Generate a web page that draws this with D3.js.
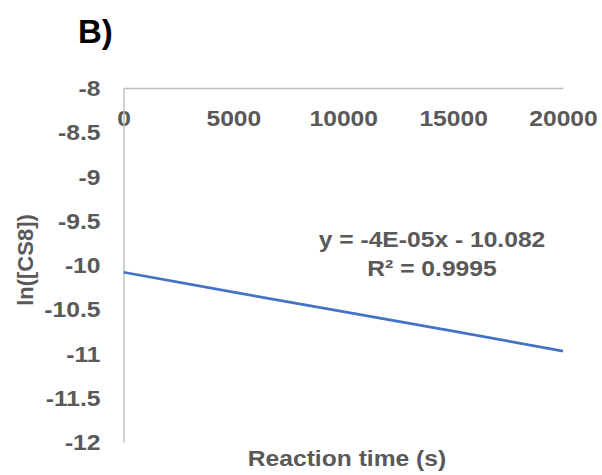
<!DOCTYPE html>
<html>
<head>
<meta charset="utf-8">
<script src="https://cdn.jsdelivr.net/npm/d3@7"></script>
<style>
  html, body { margin: 0; padding: 0; background: #fff; }
  svg text { font-family: "Liberation Sans", Arial, sans-serif; font-weight: bold; }
</style>
</head>
<body>
<svg id="chart" width="602" height="475"></svg>
<script>
// data
var times = [0, 5000, 10000, 15000, 20000];
var lnConc = [-10.082, -10.307, -10.527, -10.748, -10.972];
var xTicks = [0, 5000, 10000, 15000, 20000];
var yTicks = [-8, -8.5, -9, -9.5, -10, -10.5, -11, -11.5, -12];
var equation = ["y = -4E-05x - 10.082", "R\u00b2 = 0.9995"];

var svg = d3.select("#chart");
var grey = "#595959";
var sx = 1.12; // reference text looks a little stretched sideways

var x = d3.scaleLinear().domain([0, 20000]).range([123.5, 563]);
var y = d3.scaleLinear().domain([-8, -12]).range([88, 442]);

// panel letter
svg.append("text")
  .attr("x", 78).attr("y", 43)
  .style("font-size", "33px").attr("fill", "#000")
  .text("B)");

// axes: horizontal one sits at the top (crosses at y = -8)
var xAxis = svg.append("g").attr("transform", "translate(0," + y(-8) + ")")
  .call(d3.axisBottom(x).tickValues(xTicks).tickSize(0).tickFormat(d3.format("d")));
xAxis.select(".domain").attr("stroke", "#bfbfbf").attr("stroke-width", 1.5);
xAxis.selectAll("text")
  .attr("fill", grey).style("font-size", "22px")
  .attr("y", 0).attr("dy", "0.35em")
  .attr("transform", "translate(0,30) scale(" + sx + ",1)");

var yAxis = svg.append("g").attr("transform", "translate(" + x(0) + ",0)")
  .call(d3.axisLeft(y).tickValues(yTicks).tickSize(0).tickFormat(function(d) { return d; }));
yAxis.select(".domain").attr("stroke", "#bfbfbf").attr("stroke-width", 1.5);
yAxis.selectAll("text")
  .attr("fill", grey).style("font-size", "22px")
  .attr("x", 0).attr("dy", "0.35em")
  .attr("transform", "translate(-23,0) scale(" + sx + ",1)");

// data line
var line = d3.line()
  .x(function(d, i) { return x(times[i]); })
  .y(function(d) { return y(d); });
svg.append("path")
  .datum(lnConc)
  .attr("d", line)
  .attr("fill", "none")
  .attr("stroke", "#4472c4")
  .attr("stroke-width", 2.75);

// trendline label
svg.selectAll("text.eq")
  .data(equation)
  .enter().append("text")
  .attr("class", "eq")
  .attr("text-anchor", "middle")
  .attr("fill", grey).style("font-size", "22px")
  .attr("transform", function(d, i) { return "translate(432," + (247 + i * 29) + ") scale(" + sx + ",1)"; })
  .text(function(d) { return d; });

// axis titles
svg.append("text")
  .attr("text-anchor", "middle")
  .attr("fill", grey).style("font-size", "22px")
  .attr("transform", "translate(347,466) scale(" + sx + ",1)")
  .text("Reaction time (s)");

svg.append("text")
  .attr("text-anchor", "middle")
  .attr("fill", grey).style("font-size", "22px")
  .attr("transform", "translate(33,260) rotate(-90)")
  .text("ln([CS8])");
</script>
</body>
</html>
